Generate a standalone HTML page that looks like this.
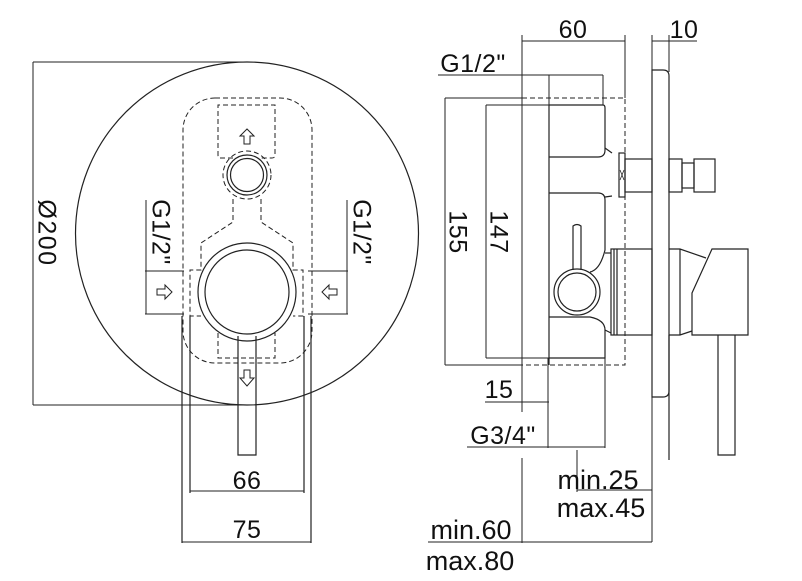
<!DOCTYPE html>
<html><head><meta charset="utf-8"><style>
html,body{margin:0;padding:0;background:#fff;}
svg{display:block;}
text{font-family:"Liberation Sans","DejaVu Sans",sans-serif;fill:#111;}
</style></head><body>
<svg width="802" height="581" viewBox="0 0 802 581" xmlns="http://www.w3.org/2000/svg">
<g fill="none" stroke="#222" stroke-width="1.2">
<!-- LEFT VIEW -->
<circle cx="247" cy="233.5" r="171.5"/>
<line x1="33" y1="62" x2="245" y2="62" stroke-width="1"/>
<line x1="33" y1="405" x2="245" y2="405" stroke-width="1"/>
<line x1="33" y1="62" x2="33" y2="405" stroke-width="1"/>
<g stroke-dasharray="5,3" stroke-width="1">
<rect x="183" y="98" width="129" height="265" rx="32"/>
<path d="M233,158 L220,158 Q218,158 218,155 L218,105 L275,105 L275,155 Q275,158 272,158 L261,158"/>
<circle cx="247" cy="175" r="24"/>
<path d="M233,199 L233,222 L201,243 L201,270 L190,270 L190,316 L201,316"/>
<path d="M261,199 L261,222 L293,243 L293,270 L303,270 L303,316 L293,316"/>
<path d="M218,333 L218,358 L275,358 L275,333"/>
</g>
<circle cx="247" cy="175" r="20"/>
<circle cx="247" cy="175" r="16.5"/>
<circle cx="247" cy="292" r="49"/>
<circle cx="247" cy="292" r="42"/>
<path d="M238,336 L238,455 L256,455 L256,336"/>
<line x1="182" y1="316" x2="182" y2="543"/>
<line x1="190" y1="316" x2="190" y2="493"/>
<line x1="304" y1="316" x2="304" y2="493"/>
<line x1="311" y1="316" x2="311" y2="543"/>
<line x1="190" y1="491" x2="304" y2="491" stroke-width="1"/>
<line x1="182" y1="542" x2="311" y2="542" stroke-width="1"/>
<g stroke-width="1">
<line x1="145" y1="271" x2="184" y2="271"/>
<line x1="145" y1="314" x2="184" y2="314"/>
<line x1="146" y1="200" x2="146" y2="314"/>
<line x1="308" y1="271" x2="348" y2="271"/>
<line x1="308" y1="314" x2="348" y2="314"/>
<line x1="347" y1="200" x2="347" y2="314"/>
</g>
<g stroke-width="1">
<path d="M157,289 L165,289 L165,285 L172,292 L165,299 L165,295 L157,295 Z"/>
<path d="M337,289 L329,289 L329,285 L322,292 L329,299 L329,295 L337,295 Z"/>
<path d="M244,144 L244,136 L240,136 L247,129 L254,136 L250,136 L250,144 Z"/>
<path d="M244,370 L244,378 L240,378 L247,386 L254,378 L250,378 L250,370 Z"/>
</g>

<!-- RIGHT VIEW -->
<g stroke-width="1">
<line x1="522" y1="41" x2="625" y2="41"/>
<line x1="522" y1="35" x2="522" y2="412"/>
<line x1="522" y1="458" x2="522" y2="543"/>
<line x1="625" y1="35" x2="625" y2="98"/>
<line x1="652" y1="41" x2="697" y2="41"/>
<line x1="652" y1="35" x2="652" y2="70"/>
<line x1="669" y1="35" x2="669" y2="72"/>
<line x1="438" y1="75" x2="603" y2="75"/>
<line x1="549" y1="75" x2="549" y2="105"/>
<line x1="603" y1="75" x2="603" y2="105"/>
<line x1="445" y1="98" x2="522" y2="98"/>
<line x1="445" y1="365" x2="522" y2="365"/>
<line x1="445" y1="98" x2="445" y2="365"/>
<line x1="486" y1="105" x2="549" y2="105"/>
<line x1="486" y1="358" x2="549" y2="358"/>
<line x1="486" y1="105" x2="486" y2="358"/>
<line x1="485" y1="402" x2="549" y2="402"/>
<line x1="467" y1="447" x2="605" y2="447"/>
<line x1="548" y1="358" x2="548" y2="448"/>
<line x1="605" y1="358" x2="605" y2="448"/>
<line x1="577" y1="450" x2="577" y2="492"/>
<line x1="577" y1="490" x2="652" y2="490"/>
<line x1="652" y1="397" x2="652" y2="542"/>
<line x1="428" y1="542" x2="652" y2="542"/>
</g>
<rect x="522" y="98" width="103" height="267" stroke-dasharray="5,3" stroke-width="1"/>
<line x1="549" y1="105" x2="549" y2="365"/>
<path d="M549,105 L603,105 Q605,105 605,108 L605,150 Q605,157 598,157 L549,157"/>
<path d="M605,148 L612,153"/>
<path d="M549,193 L598,193 Q605,193 605,200 L605,250 Q600,270 590,272"/>
<path d="M605,197 L612,196"/>
<path d="M605,253 L611,253"/>
<path d="M605,330 L611,333"/>
<path d="M549,317 L590,317 Q605,320 605,330 L605,358 L549,358"/>
<circle cx="577" cy="292" r="23"/>
<circle cx="577" cy="292" r="19"/>
<path d="M573,270 L573,226 Q577,223 581,226 L581,270"/>
<rect x="619" y="153" width="6" height="44"/>
<path d="M620,170 L624,180 M624,170 L620,180" stroke-width="0.8"/>
<rect x="625" y="159" width="27" height="33"/>
<rect x="611" y="249" width="41" height="86"/>
<line x1="614" y1="249" x2="614" y2="335"/>
<line x1="617" y1="249" x2="617" y2="335"/>
<path d="M652,70 L663,70 Q669,70 669,76 L669,391 Q669,397 663,397 L652,397 Z"/>
<rect x="669" y="159" width="13" height="33"/>
<rect x="682" y="163" width="12" height="25"/>
<rect x="694" y="159" width="21" height="33"/>
<path d="M669,249 L680,249 L706,258 M680,249 L680,335 M669,335 L680,335 L692,331"/>
<path d="M712,249 L748,249 L748,335 L692,335 L692,293 Z"/>
<path d="M718,335 L718,455 L735,455 L735,335"/>
<line x1="669" y1="335" x2="669" y2="460"/>
</g>
<!-- TEXT -->
<g font-size="25" letter-spacing="0.5">
<text x="45" y="233" text-anchor="middle" transform="rotate(90 45 233)" dominant-baseline="middle" letter-spacing="1.5">Ø200</text>
<text x="159" y="232" text-anchor="middle" transform="rotate(90 159 232)" dominant-baseline="middle">G1/2"</text>
<text x="360" y="232" text-anchor="middle" transform="rotate(90 360 232)" dominant-baseline="middle">G1/2"</text>
<text x="247" y="489" text-anchor="middle">66</text>
<text x="247" y="538" text-anchor="middle">75</text>
<text x="573" y="38" text-anchor="middle">60</text>
<text x="684" y="38" text-anchor="middle">10</text>
<text x="473" y="72" text-anchor="middle">G1/2"</text>
<text x="456" y="232" text-anchor="middle" transform="rotate(90 456 232)" dominant-baseline="middle">155</text>
<text x="497" y="232" text-anchor="middle" transform="rotate(90 497 232)" dominant-baseline="middle">147</text>
<text x="499" y="398" text-anchor="middle">15</text>
<text x="503" y="444" text-anchor="middle">G3/4"</text>
</g>
<g font-size="27">
<text x="598" y="489" text-anchor="middle">min.25</text>
<text x="601" y="517" text-anchor="middle">max.45</text>
<text x="471" y="539" text-anchor="middle">min.60</text>
<text x="470" y="570" text-anchor="middle">max.80</text>
</g>
</svg>
</body></html>
